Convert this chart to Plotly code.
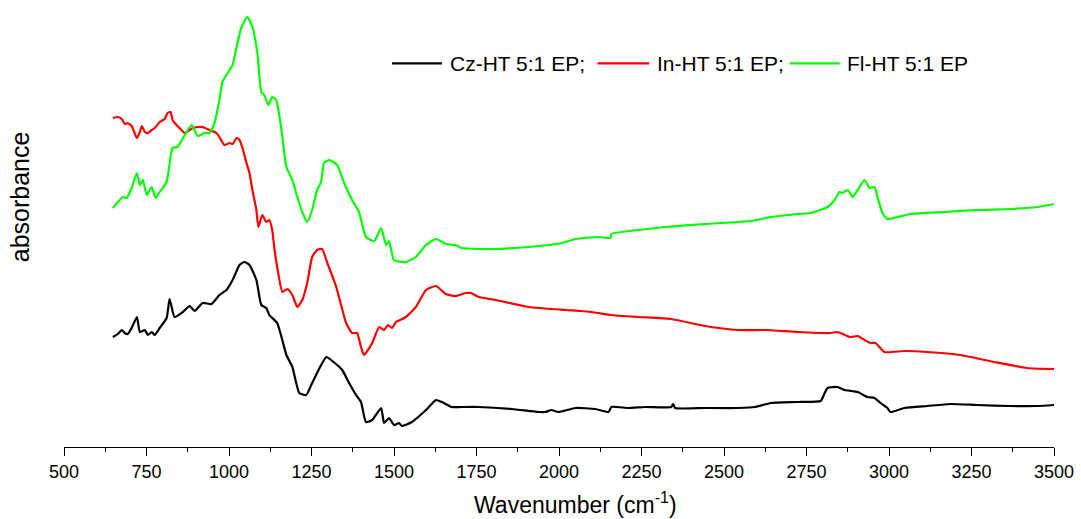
import plotly.graph_objects as go

# FTIR spectra of the three epoxy formulations (absorbance, arbitrary units)
cz_wn = [648, 663, 675, 684, 693, 705, 721, 730, 745, 754, 766, 775, 790, 811, 820, 835,
         860, 881, 896, 920, 947, 971, 992, 1011, 1032, 1047, 1062, 1083, 1098, 1113, 1122,
         1146, 1174, 1192, 1213, 1234, 1252, 1273, 1295, 1313, 1343, 1364, 1385, 1400, 1415,
         1434, 1461, 1470, 1485, 1500, 1515, 1524, 1554, 1597, 1627, 1645, 1675, 1705, 1757,
         1857, 1938, 1959, 1977, 1998, 2050, 2110, 2150, 2159, 2210, 2261, 2340, 2346, 2352,
         2443, 2542, 2594, 2642, 2724, 2793, 2805, 2814, 2844, 2866, 2905, 2935, 2956, 2974,
         2995, 3004, 3047, 3116, 3186, 3267, 3367, 3449, 3500]
cz_abs = [1.10, 1.13, 1.17, 1.14, 1.13, 1.19, 1.30, 1.15, 1.17, 1.12, 1.15, 1.12, 1.19, 1.29,
          1.48, 1.30, 1.35, 1.41, 1.36, 1.44, 1.43, 1.52, 1.57, 1.67, 1.82, 1.85, 1.82, 1.67,
          1.42, 1.39, 1.32, 1.24, 0.92, 0.80, 0.54, 0.52, 0.64, 0.78, 0.90, 0.86, 0.77, 0.64,
          0.52, 0.45, 0.25, 0.27, 0.39, 0.24, 0.29, 0.22, 0.24, 0.21, 0.25, 0.37, 0.47, 0.45,
          0.40, 0.40, 0.40, 0.38, 0.35, 0.35, 0.37, 0.35, 0.39, 0.38, 0.35, 0.40, 0.39, 0.40,
          0.40, 0.43, 0.39, 0.39, 0.39, 0.40, 0.44, 0.45, 0.46, 0.54, 0.59, 0.60, 0.57, 0.55,
          0.50, 0.49, 0.44, 0.39, 0.35, 0.39, 0.41, 0.43, 0.42, 0.41, 0.41, 0.42]

in_wn = [648, 663, 675, 684, 693, 705, 714, 721, 730, 736, 745, 754, 766, 775, 790, 805,
         814, 823, 829, 841, 856, 866, 881, 890, 905, 920, 941, 962, 971, 986, 1002, 1011,
         1023, 1032, 1041, 1053, 1062, 1071, 1083, 1089, 1101, 1113, 1122, 1131, 1137, 1146,
         1162, 1177, 1192, 1207, 1222, 1237, 1252, 1267, 1282, 1298, 1325, 1355, 1373, 1388,
         1400, 1409, 1434, 1455, 1470, 1482, 1494, 1506, 1536, 1566, 1597, 1627, 1657, 1687,
         1718, 1733, 1757, 1808, 1908, 2020, 2068, 2119, 2156, 2240, 2340, 2443, 2542, 2624,
         2724, 2823, 2844, 2866, 2884, 2905, 2926, 2944, 2959, 2986, 3047, 3116, 3216, 3319,
         3418, 3500]
in_abs = [3.29, 3.30, 3.28, 3.23, 3.24, 3.21, 3.14, 3.09, 3.15, 3.21, 3.15, 3.14, 3.17, 3.19,
          3.25, 3.28, 3.34, 3.35, 3.27, 3.22, 3.17, 3.14, 3.17, 3.19, 3.20, 3.20, 3.17, 3.14,
          3.10, 3.02, 3.04, 3.03, 3.09, 3.07, 2.99, 2.84, 2.74, 2.57, 2.37, 2.20, 2.32, 2.25,
          2.27, 2.17, 2.00, 1.80, 1.55, 1.58, 1.52, 1.40, 1.47, 1.64, 1.90, 1.97, 1.98, 1.84,
          1.60, 1.24, 1.14, 1.14, 1.00, 0.92, 1.04, 1.20, 1.17, 1.22, 1.19, 1.25, 1.30, 1.40,
          1.57, 1.61, 1.53, 1.51, 1.54, 1.54, 1.50, 1.47, 1.40, 1.37, 1.36, 1.34, 1.32, 1.30,
          1.28, 1.21, 1.17, 1.17, 1.15, 1.14, 1.15, 1.12, 1.10, 1.11, 1.07, 1.04, 1.04, 0.95,
          0.96, 0.95, 0.92, 0.85, 0.79, 0.78]

fl_wn = [648, 669, 678, 690, 705, 721, 730, 739, 751, 766, 778, 790, 811, 829, 844, 866,
         887, 905, 926, 941, 956, 971, 980, 1002, 1011, 1023, 1038, 1056, 1071, 1086, 1098,
         1107, 1119, 1131, 1143, 1159, 1174, 1192, 1207, 1222, 1237, 1252, 1267, 1279, 1288,
         1304, 1328, 1349, 1373, 1394, 1415, 1440, 1461, 1476, 1485, 1500, 1536, 1566, 1597,
         1627, 1657, 1687, 1705, 1757, 1808, 1908, 1968, 2008, 2050, 2119, 2156, 2159, 2240,
         2322, 2443, 2582, 2642, 2724, 2763, 2814, 2835, 2850, 2859, 2875, 2890, 2905, 2926,
         2941, 2956, 2965, 2980, 2995, 3026, 3065, 3168, 3267, 3367, 3449, 3500]
fl_abs = [2.39, 2.47, 2.50, 2.49, 2.59, 2.74, 2.62, 2.67, 2.52, 2.60, 2.49, 2.55, 2.65, 2.99,
          3.00, 3.12, 3.22, 3.11, 3.14, 3.14, 3.24, 3.47, 3.65, 3.77, 3.82, 4.00, 4.20, 4.30,
          4.20, 3.94, 3.55, 3.52, 3.42, 3.50, 3.47, 3.17, 2.80, 2.67, 2.50, 2.35, 2.25, 2.37,
          2.57, 2.65, 2.84, 2.87, 2.82, 2.64, 2.47, 2.35, 2.10, 2.06, 2.19, 2.02, 2.06, 1.87,
          1.85, 1.90, 2.02, 2.08, 2.03, 2.02, 1.99, 1.98, 1.98, 2.00, 2.02, 2.04, 2.08, 2.10,
          2.09, 2.13, 2.17, 2.20, 2.23, 2.26, 2.30, 2.33, 2.34, 2.40, 2.47, 2.55, 2.54, 2.57,
          2.50, 2.57, 2.67, 2.59, 2.60, 2.50, 2.34, 2.28, 2.30, 2.33, 2.35, 2.37, 2.38, 2.40,
          2.43]

series_names = ["Cz-HT 5:1 EP;", "In-HT 5:1 EP;", "Fl-HT 5:1 EP"]
series_colors = ["#000000", "#FF0000", "#00FF00"]
series_x = [cz_wn, in_wn, fl_wn]
series_y = [cz_abs, in_abs, fl_abs]

FONT = "Liberation Sans, Arial, sans-serif"

# legend key layout (paper fractions): line start/end and label start per entry
key_line_x0 = [0.3313, 0.5388, 0.7331]
key_line_x1 = [0.3817, 0.5911, 0.7835]
key_text_x = [0.3877, 0.5972, 0.7885]
key_y = 0.872

fig = go.Figure()
shapes = []
annotations = []
for i, name in enumerate(series_names):
    fig.add_trace(go.Scatter(
        x=series_x[i], y=series_y[i], name=name, mode="lines",
        line=dict(color=series_colors[i], width=2.2, shape="spline", smoothing=0.5),
        showlegend=False,
    ))
    shapes.append(dict(type="line", xref="paper", yref="paper",
                       x0=key_line_x0[i], x1=key_line_x1[i], y0=key_y, y1=key_y,
                       line=dict(color=series_colors[i], width=2.2)))
    annotations.append(dict(text=name, xref="paper", yref="paper",
                            x=key_text_x[i], y=key_y, xanchor="left", yanchor="middle",
                            showarrow=False,
                            font=dict(family=FONT, size=21, color="black")))

annotations += [
    dict(text="Wavenumber (cm<sup>-1</sup>)", xref="paper", yref="paper",
         x=0.5166, y=-0.128, xanchor="center", yanchor="middle",
         showarrow=False, font=dict(family=FONT, size=23, color="black")),
    dict(text="absorbance", xref="paper", yref="paper",
         x=-0.0443, y=0.568, xanchor="center", yanchor="middle",
         textangle=-90, showarrow=False,
         font=dict(family=FONT, size=25, color="black")),
]

fig.update_layout(
    width=1081, height=519,
    margin=dict(l=64, r=24, t=7, b=72),
    paper_bgcolor="white", plot_bgcolor="white",
    font=dict(family=FONT, color="black", size=18),
    showlegend=False,
    xaxis=dict(
        range=[500, 3500], tick0=500, dtick=250,
        showline=True, linecolor="black", linewidth=1.3,
        ticks="outside", ticklen=8, tickwidth=1.3, tickcolor="black",
        minor=dict(dtick=125, tick0=500, ticks="outside", ticklen=4,
                   tickwidth=1.3, tickcolor="black"),
        showgrid=False, zeroline=False,
        tickfont=dict(family=FONT, size=18, color="black"),
        fixedrange=True,
    ),
    yaxis=dict(range=[0, 4.4], visible=False, showgrid=False, zeroline=False,
               fixedrange=True),
    shapes=shapes,
    annotations=annotations,
)

fig.write_html("out.html")
